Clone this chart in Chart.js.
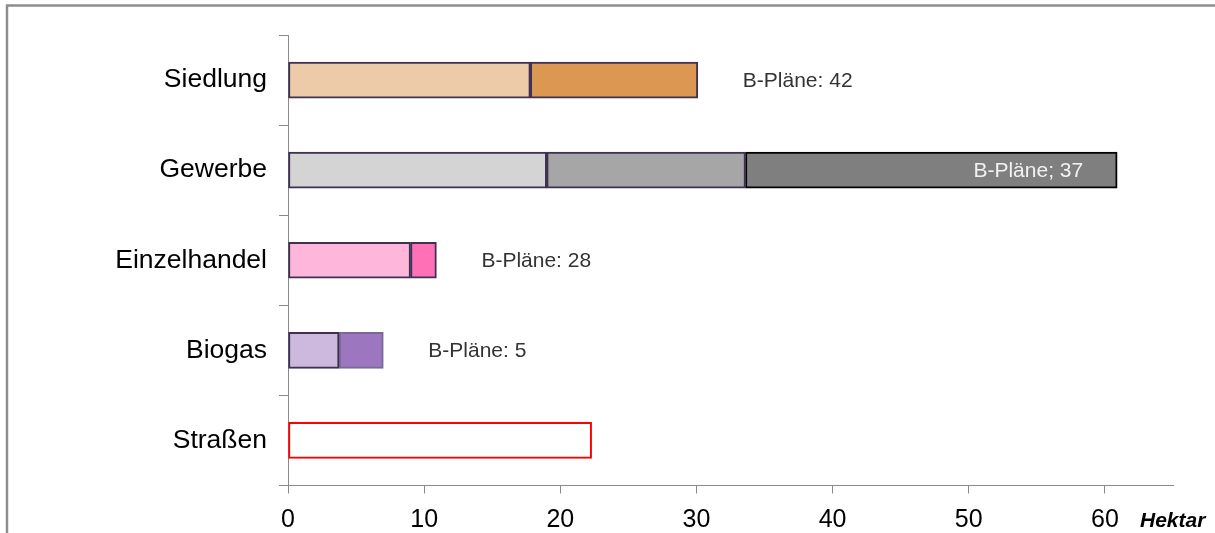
<!DOCTYPE html>
<html lang="de">
<head>
<meta charset="utf-8">
<title>Flächen nach Nutzung</title>
<script src="https://cdn.jsdelivr.net/npm/chart.js@4/dist/chart.umd.min.js"></script>
<style>
  html, body { margin: 0; padding: 0; background: #fff; }
  #wrap { width: 1215px; height: 533px; position: relative; }
</style>
</head>
<body>
<div id="wrap"><canvas id="chart"></canvas></div>
<script>
// Flächen in Hektar je Nutzungsart, in Teilflächen gestapelt
const categories = ['Siedlung', 'Gewerbe', 'Einzelhandel', 'Biogas', 'Straßen'];
const teil1 = [17.8, 19.0, 9.0, 3.75, 22.3];
const teil2 = [12.3, 14.6, 1.9, 3.25, null];
const teil3 = [null, 27.3, null, null, null];
const planLabels = ['B-Pläne: 42', 'B-Pläne; 37', 'B-Pläne: 28', 'B-Pläne: 5', ''];
const xTicks = [0, 10, 20, 30, 40, 50, 60];
const xMax = 65;
const unitLabel = 'Hektar';

const FONT = '"Liberation Sans", Arial, sans-serif';
const EDGE = '#3F3151';

const fill1 = ['#EDCBA8', '#D4D4D4', '#FFB6DB', '#CDB8DE', '#FFFFFF'];
const fill2 = ['#DC9752', '#A6A6A6', '#FF70B6', '#9C76BE', '#FFFFFF'];
const fill3 = ['#7F7F7F', '#7F7F7F', '#7F7F7F', '#7F7F7F', '#7F7F7F'];
const edge1 = [EDGE, EDGE, EDGE, EDGE, '#FF0000'];
const edge2 = [EDGE, EDGE, EDGE, '#7B6894', EDGE];
const edge3 = ['#000', '#000', '#000', '#000', '#000'];

// Rahmen um die Grafik
const framePlugin = {
  id: 'frame',
  beforeDraw(chart) {
    const ctx = chart.ctx;
    ctx.save();
    ctx.strokeStyle = '#8E8E8E';
    ctx.lineWidth = 2.5;
    ctx.beginPath();
    ctx.moveTo(7, chart.height);
    ctx.lineTo(7, 5.5);
    ctx.lineTo(chart.width, 5.5);
    ctx.stroke();
    ctx.restore();
  }
};

// Beschriftung "B-Pläne" hinter bzw. in den Balken, Einheit an der Achse
const labelPlugin = {
  id: 'planLabels',
  afterDatasetsDraw(chart) {
    const ctx = chart.ctx;
    ctx.save();
    ctx.font = '21px ' + FONT;
    ctx.textBaseline = 'middle';
    categories.forEach((c, i) => {
      const text = planLabels[i];
      if (!text) return;
      let end = null, y = null;
      chart.data.datasets.forEach((ds, d) => {
        if (ds.data[i] == null) return;
        const el = chart.getDatasetMeta(d).data[i];
        end = el.x; y = el.y;
      });
      if (end === null) return;
      if (i === 1) {
        ctx.fillStyle = '#F2F2F2';
        ctx.textAlign = 'right';
        ctx.fillText(text, end - 34, y + 1);
      } else {
        ctx.fillStyle = '#333333';
        ctx.textAlign = 'left';
        ctx.fillText(text, end + 45, y + 1);
      }
    });
    const area = chart.chartArea;
    ctx.font = 'italic bold 21px ' + FONT;
    ctx.fillStyle = '#000';
    ctx.textAlign = 'left';
    ctx.textBaseline = 'alphabetic';
    ctx.fillText(unitLabel, area.right - 33, 527);
    ctx.restore();
  }
};

new Chart(document.getElementById('chart'), {
  type: 'bar',
  data: {
    labels: categories,
    datasets: [
      { data: teil1, backgroundColor: fill1, borderColor: edge1 },
      { data: teil2, backgroundColor: fill2, borderColor: edge2 },
      { data: teil3, backgroundColor: fill3, borderColor: edge3 }
    ]
  },
  options: {
    indexAxis: 'y',
    responsive: true,
    maintainAspectRatio: false,
    animation: false,
    layout: { padding: { top: 35, right: 42, left: 0, bottom: 0 } },
    datasets: {
      bar: { barThickness: 36, borderWidth: 2, borderSkipped: false }
    },
    plugins: {
      legend: { display: false },
      tooltip: { enabled: false }
    },
    scales: {
      x: {
        type: 'linear',
        stacked: true,
        min: 0,
        max: xMax,
        afterBuildTicks(scale) {
          scale.ticks = xTicks.map(v => ({ value: v }));
        },
        afterFit(scale) { scale.height = 47.5; },
        grid: { drawOnChartArea: false, drawTicks: true, tickLength: 8, color: '#8A8A8A' },
        border: { display: true, color: '#8A8A8A', width: 1 },
        ticks: {
          color: '#000',
          padding: 12,
          maxRotation: 0,
          font: { family: FONT, size: 25 }
        }
      },
      y: {
        type: 'category',
        stacked: true,
        offset: true,
        afterFit(scale) { scale.width = 288; },
        grid: { offset: true, drawOnChartArea: false, drawTicks: true, tickLength: 9, color: '#8A8A8A' },
        border: { display: true, color: '#8A8A8A', width: 1 },
        ticks: {
          color: '#000',
          padding: 12,
          font: { family: FONT, size: 26.5 }
        }
      }
    }
  },
  plugins: [framePlugin, labelPlugin]
});
</script>
</body>
</html>
